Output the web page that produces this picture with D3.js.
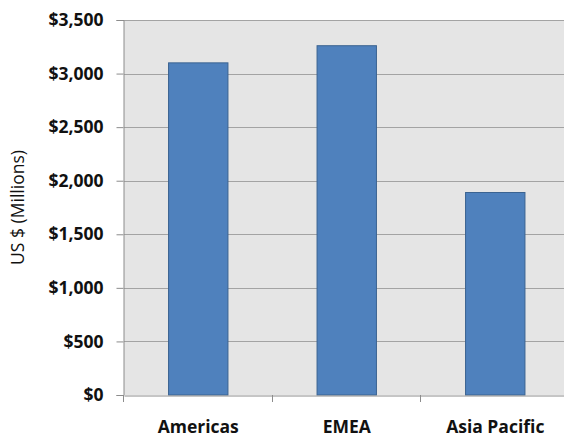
<!DOCTYPE html>
<html>
<head>
<meta charset="utf-8">
<script src="https://cdn.jsdelivr.net/npm/d3@7"></script>
<style>
  html, body { margin: 0; padding: 0; background: #ffffff; }
  svg { display: block; }
  text { font-family: "Open Sans", "Noto Sans", sans-serif; }
</style>
</head>
<body>
<svg id="chart" width="564" height="437"></svg>
<script>
// Revenue by region, US$ millions
const regions = ["Americas", "EMEA", "Asia Pacific"];
const revenue = [3100, 3260, 1890];
const yTicks = [0, 500, 1000, 1500, 2000, 2500, 3000, 3500];
const yTitle = "US $ (Millions)";

const svg = d3.select("#chart");
const plot = { left: 124, top: 20, right: 569.5, bottom: 395 };

const x = d3.scaleBand()
  .domain(regions)
  .range([plot.left, plot.right])
  .padding(0);

const y = d3.scaleLinear()
  .domain([0, 3500])
  .range([plot.bottom, plot.top]);

// plot background
svg.append("rect")
  .attr("x", plot.left)
  .attr("y", plot.top)
  .attr("width", plot.right - plot.left)
  .attr("height", plot.bottom - plot.top)
  .attr("fill", "#e5e5e5");

// horizontal gridlines
svg.append("g")
  .selectAll("line")
  .data(yTicks.filter(d => d > 0))
  .join("line")
  .attr("x1", plot.left)
  .attr("x2", plot.right)
  .attr("y1", d => Math.round(y(d)) + 0.5)
  .attr("y2", d => Math.round(y(d)) + 0.5)
  .attr("stroke", "#a3a3a3")
  .attr("stroke-width", 1);

// bars
const barW = x.bandwidth() * 0.4;
svg.append("g")
  .selectAll("rect")
  .data(regions.map((r, i) => ({ region: r, value: revenue[i] })))
  .join("rect")
  .attr("x", d => x(d.region) + (x.bandwidth() - barW) / 2)
  .attr("y", d => y(d.value))
  .attr("width", barW)
  .attr("height", d => y(0) - y(d.value))
  .attr("fill", "#4f81bd")
  .attr("stroke", "#3b6391")
  .attr("stroke-width", 1);

// y axis
const yAxis = svg.append("g")
  .attr("transform", `translate(${plot.left - 0.5},0)`)
  .call(d3.axisLeft(y)
    .tickValues(yTicks)
    .tickSize(7)
    .tickPadding(13)
    .tickFormat(d => "$" + d3.format(",")(d)));
yAxis.select(".domain").attr("stroke", "#8c8c8c");
yAxis.selectAll(".tick line").attr("stroke", "#8c8c8c");
yAxis.selectAll(".tick text")
  .attr("fill", "#111")
  .style("font-size", "17.5px")
  .style("font-weight", "700");

// x axis
const xAxis = svg.append("g")
  .attr("transform", `translate(0,${plot.bottom + 0.5})`)
  .call(d3.axisBottom(x).tickSize(0).tickPadding(25.5));
xAxis.select(".domain").attr("stroke", "#8c8c8c");
xAxis.selectAll(".tick text")
  .attr("fill", "#111")
  .style("font-size", "17.5px")
  .style("font-weight", "700");

// category separators below the axis
svg.append("g")
  .selectAll("line")
  .data(regions)
  .join("line")
  .attr("x1", d => Math.round(x(d)) - 0.5)
  .attr("x2", d => Math.round(x(d)) - 0.5)
  .attr("y1", plot.bottom)
  .attr("y2", plot.bottom + 7)
  .attr("stroke", "#8c8c8c");

// y axis title
svg.append("text")
  .attr("transform", `translate(24,${(plot.top + plot.bottom) / 2}) rotate(-90)`)
  .attr("text-anchor", "middle")
  .attr("fill", "#111")
  .style("font-size", "17.5px")
  .text(yTitle);
</script>
</body>
</html>
